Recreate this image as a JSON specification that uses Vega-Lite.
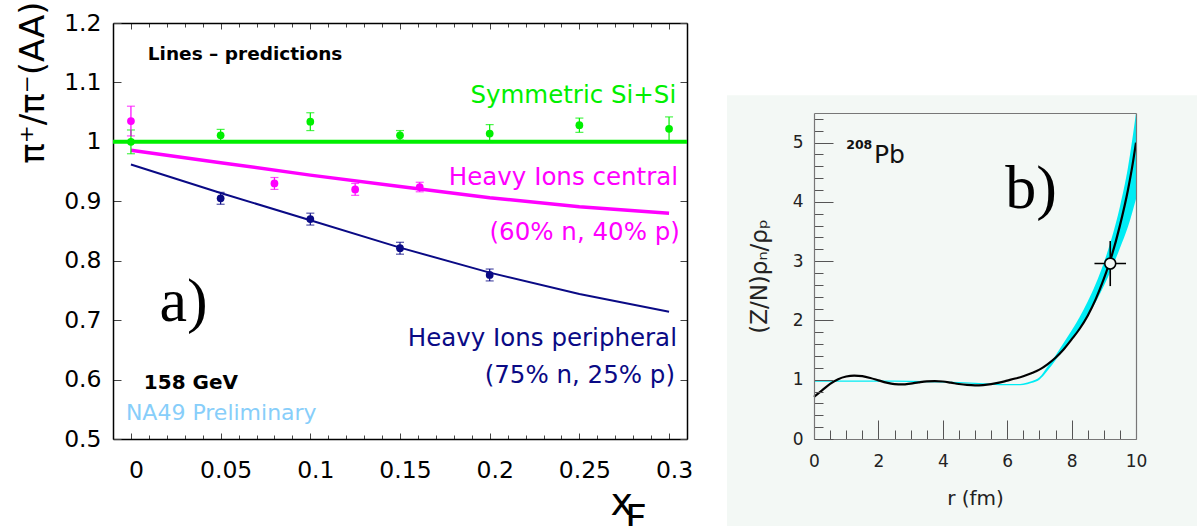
{
  "$schema": "https://vega.github.io/schema/vega-lite/v6.json",
  "background": "white",
  "padding": {"left": 16, "top": 0, "right": 0, "bottom": 0},
  "config": {
    "view": {"stroke": null},
    "axis": {"grid": false, "labelFont": "DejaVu Sans", "titleFont": "DejaVu Sans"},
    "text": {"font": "DejaVu Sans"}
  },
  "bounds": "flush",
  "spacing": 127,
  "hconcat": [
    {
      "width": 574,
      "height": 416,
      "resolve": {"axis": {"x": "independent", "y": "independent"}},
      "layer": [
        {
          "data": {"values": [{"series": "Si+Si", "ratio": 1.0}]},
          "mark": {"type": "rule", "color": "#00ef00", "strokeWidth": 4},
          "encoding": {
            "y": {"field": "ratio", "type": "quantitative", "scale": {"domain": [0.5, 1.2], "nice": false, "zero": false}, "axis": null}
          }
        },
        {
          "data": {"values": [
            {"series": "central", "xF": 0, "ratio": 0.986},
            {"series": "central", "xF": 0.05, "ratio": 0.965},
            {"series": "central", "xF": 0.1, "ratio": 0.944},
            {"series": "central", "xF": 0.15, "ratio": 0.925},
            {"series": "central", "xF": 0.2, "ratio": 0.906},
            {"series": "central", "xF": 0.25, "ratio": 0.891},
            {"series": "central", "xF": 0.3, "ratio": 0.88},
            {"series": "peripheral", "xF": 0, "ratio": 0.962},
            {"series": "peripheral", "xF": 0.05, "ratio": 0.914},
            {"series": "peripheral", "xF": 0.1, "ratio": 0.868},
            {"series": "peripheral", "xF": 0.15, "ratio": 0.822},
            {"series": "peripheral", "xF": 0.2, "ratio": 0.78},
            {"series": "peripheral", "xF": 0.25, "ratio": 0.744},
            {"series": "peripheral", "xF": 0.3, "ratio": 0.714}
          ]},
          "mark": {"type": "line"},
          "encoding": {
            "x": {
              "field": "xF", "type": "quantitative",
              "scale": {"domain": [-0.01, 0.31], "nice": false, "zero": false},
              "axis": {
                "orient": "bottom",
                "values": [0, 0.01, 0.02, 0.03, 0.04, 0.05, 0.06, 0.07, 0.08, 0.09, 0.1, 0.11, 0.12, 0.13, 0.14, 0.15, 0.16, 0.17, 0.18, 0.19, 0.2, 0.21, 0.22, 0.23, 0.24, 0.25, 0.26, 0.27, 0.28, 0.29, 0.3],
                "labelExpr": "round(datum.value*100) % 5 === 0 ? format(datum.value, '~g') : ''",
                "tickSize": {"condition": {"test": "round(datum.value*100) % 5 === 0", "value": -6}, "value": -4},
                "labelPadding": 25,
                "labelOffset": 5,
                "labelFontSize": 23.5,
                "labelColor": "black",
                "labelOverlap": false,
                "labelFlush": false,
                "labelBound": false,
                "domainColor": "black",
                "domainWidth": 1.5,
                "tickColor": "#444",
                "tickWidth": 1,
                "title": "x",
                "titleFontSize": 38,
                "titleFontWeight": "normal",
                "titleColor": "black",
                "titleX": 497,
                "titleY": 75,
                "titleAngle": 0,
                "titleAlign": "left",
                "titleBaseline": "alphabetic"
              }
            },
            "y": {
              "field": "ratio", "type": "quantitative",
              "scale": {"domain": [0.5, 1.2], "nice": false, "zero": false},
              "axis": {
                "orient": "left",
                "values": [0.5, 0.6, 0.7, 0.8, 0.9, 1, 1.1, 1.2],
                "format": "~g",
                "tickSize": -8,
                "labelPadding": 20,
                "labelFontSize": 23.5,
                "labelColor": "black",
                "domainColor": "black",
                "domainWidth": 1.5,
                "tickColor": "#444",
                "tickWidth": 1,
                "title": "π⁺/π⁻(AA)",
                "titleFontSize": 34,
                "titleFontWeight": "normal",
                "titleColor": "black",
                "titleX": -80,
                "titleY": 59,
                "titleAngle": -90,
                "titleAlign": "center",
                "titleBaseline": "middle"
              }
            },
            "color": {"field": "series", "type": "nominal", "scale": {"domain": ["Si+Si", "central", "peripheral"], "range": ["#00ef00", "#ff00ff", "#0a0a85"]}, "legend": null},
            "strokeWidth": {"field": "series", "type": "nominal", "scale": {"domain": ["central", "peripheral"], "range": [3.5, 2]}, "legend": null}
          }
        },
        {
          "data": {"name": "measured", "values": [
            {"series": "Si+Si", "xF": 0, "ratio": 1.0, "lo": 0.98, "hi": 1.02},
            {"series": "Si+Si", "xF": 0.05, "ratio": 1.011, "lo": 1.001, "hi": 1.021},
            {"series": "Si+Si", "xF": 0.1, "ratio": 1.034, "lo": 1.019, "hi": 1.049},
            {"series": "Si+Si", "xF": 0.15, "ratio": 1.011, "lo": 1.003, "hi": 1.019},
            {"series": "Si+Si", "xF": 0.2, "ratio": 1.014, "lo": 0.999, "hi": 1.029},
            {"series": "Si+Si", "xF": 0.25, "ratio": 1.028, "lo": 1.016, "hi": 1.04},
            {"series": "Si+Si", "xF": 0.3, "ratio": 1.022, "lo": 1.002, "hi": 1.042},
            {"series": "central", "xF": 0, "ratio": 1.035, "lo": 1.01, "hi": 1.06},
            {"series": "central", "xF": 0.08, "ratio": 0.93, "lo": 0.92, "hi": 0.94},
            {"series": "central", "xF": 0.125, "ratio": 0.92, "lo": 0.91, "hi": 0.93},
            {"series": "central", "xF": 0.161, "ratio": 0.924, "lo": 0.916, "hi": 0.932},
            {"series": "peripheral", "xF": 0.05, "ratio": 0.905, "lo": 0.895, "hi": 0.915},
            {"series": "peripheral", "xF": 0.1, "ratio": 0.87, "lo": 0.86, "hi": 0.88},
            {"series": "peripheral", "xF": 0.15, "ratio": 0.821, "lo": 0.811, "hi": 0.831},
            {"series": "peripheral", "xF": 0.2, "ratio": 0.776, "lo": 0.766, "hi": 0.786}
          ]},
          "mark": {"type": "errorbar", "ticks": {"size": 8, "thickness": 1.2}, "rule": {"strokeWidth": 1.2}},
          "encoding": {
            "x": {"field": "xF", "type": "quantitative", "scale": {"domain": [-0.01, 0.31], "nice": false, "zero": false}, "axis": null},
            "y": {"field": "lo", "type": "quantitative", "scale": {"domain": [0.5, 1.2], "nice": false, "zero": false}, "axis": null},
            "y2": {"field": "hi"},
            "color": {"field": "series", "type": "nominal", "scale": {"domain": ["Si+Si", "central", "peripheral"], "range": ["#00ef00", "#ff00ff", "#0a0a85"]}, "legend": null}
          }
        },
        {
          "data": {"name": "measured"},
          "mark": {"type": "circle", "size": 60, "opacity": 1},
          "encoding": {
            "x": {
              "field": "xF", "type": "quantitative",
              "scale": {"domain": [-0.01, 0.31], "nice": false, "zero": false},
              "axis": {
                "orient": "top",
                "values": [0, 0.01, 0.02, 0.03, 0.04, 0.05, 0.06, 0.07, 0.08, 0.09, 0.1, 0.11, 0.12, 0.13, 0.14, 0.15, 0.16, 0.17, 0.18, 0.19, 0.2, 0.21, 0.22, 0.23, 0.24, 0.25, 0.26, 0.27, 0.28, 0.29, 0.3],
                "labels": false,
                "tickSize": {"condition": {"test": "round(datum.value*100) % 5 === 0", "value": -6}, "value": -4},
                "domainColor": "black",
                "domainWidth": 1.5,
                "tickColor": "#444",
                "tickWidth": 1,
                "title": null
              }
            },
            "y": {
              "field": "ratio", "type": "quantitative",
              "scale": {"domain": [0.5, 1.2], "nice": false, "zero": false},
              "axis": {
                "orient": "right",
                "values": [0.5, 0.6, 0.7, 0.8, 0.9, 1, 1.1, 1.2],
                "labels": false,
                "tickSize": -7,
                "domainColor": "black",
                "domainWidth": 1.5,
                "tickColor": "#444",
                "tickWidth": 1,
                "title": null
              }
            },
            "color": {"field": "series", "type": "nominal", "scale": {"domain": ["Si+Si", "central", "peripheral"], "range": ["#00ef00", "#ff00ff", "#0a0a85"]}, "legend": null}
          }
        },
        {
          "data": {"values": [{"label": "Lines – predictions"}]},
          "mark": {"type": "text", "align": "left", "baseline": "middle", "fontSize": 18.5, "fontWeight": "bold", "color": "black"},
          "encoding": {
            "text": {"field": "label"},
            "x": {"datum": 0.0094, "type": "quantitative", "scale": {"domain": [-0.01, 0.31], "nice": false, "zero": false}, "axis": null},
            "y": {"datum": 1.148, "type": "quantitative", "scale": {"domain": [0.5, 1.2], "nice": false, "zero": false}, "axis": null}
          }
        },
        {
          "data": {"values": [{"label": "Symmetric Si+Si"}]},
          "mark": {"type": "text", "align": "right", "baseline": "middle", "fontSize": 24.5, "color": "#00ef00"},
          "encoding": {
            "text": {"field": "label"},
            "x": {"datum": 0.304, "type": "quantitative", "scale": {"domain": [-0.01, 0.31], "nice": false, "zero": false}, "axis": null},
            "y": {"datum": 1.077, "type": "quantitative", "scale": {"domain": [0.5, 1.2], "nice": false, "zero": false}, "axis": null}
          }
        },
        {
          "data": {"values": [{"label": "Heavy Ions central"}]},
          "mark": {"type": "text", "align": "right", "baseline": "middle", "fontSize": 24.5, "color": "#ff00ff"},
          "encoding": {
            "text": {"field": "label"},
            "x": {"datum": 0.305, "type": "quantitative", "scale": {"domain": [-0.01, 0.31], "nice": false, "zero": false}, "axis": null},
            "y": {"datum": 0.939, "type": "quantitative", "scale": {"domain": [0.5, 1.2], "nice": false, "zero": false}, "axis": null}
          }
        },
        {
          "data": {"values": [{"label": "(60% n, 40% p)"}]},
          "mark": {"type": "text", "align": "right", "baseline": "middle", "fontSize": 24.5, "color": "#ff00ff"},
          "encoding": {
            "text": {"field": "label"},
            "x": {"datum": 0.306, "type": "quantitative", "scale": {"domain": [-0.01, 0.31], "nice": false, "zero": false}, "axis": null},
            "y": {"datum": 0.847, "type": "quantitative", "scale": {"domain": [0.5, 1.2], "nice": false, "zero": false}, "axis": null}
          }
        },
        {
          "data": {"values": [{"label": "Heavy Ions peripheral"}]},
          "mark": {"type": "text", "align": "right", "baseline": "middle", "fontSize": 24.5, "color": "#0a0a85"},
          "encoding": {
            "text": {"field": "label"},
            "x": {"datum": 0.3044, "type": "quantitative", "scale": {"domain": [-0.01, 0.31], "nice": false, "zero": false}, "axis": null},
            "y": {"datum": 0.668, "type": "quantitative", "scale": {"domain": [0.5, 1.2], "nice": false, "zero": false}, "axis": null}
          }
        },
        {
          "data": {"values": [{"label": "(75% n, 25% p)"}]},
          "mark": {"type": "text", "align": "right", "baseline": "middle", "fontSize": 24.5, "color": "#0a0a85"},
          "encoding": {
            "text": {"field": "label"},
            "x": {"datum": 0.3033, "type": "quantitative", "scale": {"domain": [-0.01, 0.31], "nice": false, "zero": false}, "axis": null},
            "y": {"datum": 0.606, "type": "quantitative", "scale": {"domain": [0.5, 1.2], "nice": false, "zero": false}, "axis": null}
          }
        },
        {
          "data": {"values": [{"label": "a)"}]},
          "mark": {"type": "text", "align": "center", "baseline": "middle", "fontSize": 62, "font": "Liberation Serif", "color": "black"},
          "encoding": {
            "text": {"field": "label"},
            "x": {"datum": 0.0294, "type": "quantitative", "scale": {"domain": [-0.01, 0.31], "nice": false, "zero": false}, "axis": null},
            "y": {"datum": 0.731, "type": "quantitative", "scale": {"domain": [0.5, 1.2], "nice": false, "zero": false}, "axis": null}
          }
        },
        {
          "data": {"values": [{"label": "158 GeV"}]},
          "mark": {"type": "text", "align": "left", "baseline": "middle", "fontSize": 20, "fontWeight": "bold", "color": "black"},
          "encoding": {
            "text": {"field": "label"},
            "x": {"datum": 0.0072, "type": "quantitative", "scale": {"domain": [-0.01, 0.31], "nice": false, "zero": false}, "axis": null},
            "y": {"datum": 0.595, "type": "quantitative", "scale": {"domain": [0.5, 1.2], "nice": false, "zero": false}, "axis": null}
          }
        },
        {
          "data": {"values": [{"label": "NA49 Preliminary"}]},
          "mark": {"type": "text", "align": "left", "baseline": "middle", "fontSize": 22, "color": "#87cefa"},
          "encoding": {
            "text": {"field": "label"},
            "x": {"datum": -0.0028, "type": "quantitative", "scale": {"domain": [-0.01, 0.31], "nice": false, "zero": false}, "axis": null},
            "y": {"datum": 0.543, "type": "quantitative", "scale": {"domain": [0.5, 1.2], "nice": false, "zero": false}, "axis": null}
          }
        },
        {
          "data": {"values": [{"label": "F"}]},
          "mark": {"type": "text", "align": "left", "baseline": "alphabetic", "fontSize": 38, "color": "black"},
          "encoding": {
            "text": {"field": "label"},
            "x": {"datum": 0.2755, "type": "quantitative", "scale": {"domain": [-0.01, 0.31], "nice": false, "zero": false}, "axis": null},
            "y": {"datum": 0.3451, "type": "quantitative", "scale": {"domain": [0.5, 1.2], "nice": false, "zero": false}, "axis": null}
          }
        }
      ]
    },
    {
      "bounds": "flush",
      "spacing": 0,
      "vconcat": [
        {
          "width": 322,
          "height": 90,
          "data": {"values": []},
          "mark": "point",
          "encoding": {}
        },
        {
          "width": 322,
          "height": 326,
          "resolve": {"axis": {"x": "independent", "y": "independent"}},
          "layer": [
            {
              "data": {"values": [{"panel": "b"}]},
              "mark": {"type": "rect", "color": "#f3f8f5", "opacity": 1},
              "encoding": {
                "x": {"datum": -2.7, "type": "quantitative", "scale": {"domain": [0, 10], "nice": false, "zero": false}, "axis": null},
                "x2": {"datum": 11.9},
                "y": {"datum": -1.47, "type": "quantitative", "scale": {"domain": [0, 5.5], "nice": false, "zero": false}, "axis": null},
                "y2": {"datum": 5.8}
              }
            },
            {
              "data": {"values": [
                {"r": 0, "lo": 0.965, "hi": 0.985},
                {"r": 1, "lo": 0.965, "hi": 0.985},
                {"r": 2, "lo": 0.965, "hi": 0.985},
                {"r": 3, "lo": 0.962, "hi": 0.982},
                {"r": 4, "lo": 0.952, "hi": 0.972},
                {"r": 5, "lo": 0.93, "hi": 0.95},
                {"r": 5.5, "lo": 0.915, "hi": 0.937},
                {"r": 6, "lo": 0.905, "hi": 0.927},
                {"r": 6.3, "lo": 0.905, "hi": 0.928},
                {"r": 6.5, "lo": 0.913, "hi": 0.938},
                {"r": 6.75, "lo": 0.945, "hi": 0.975},
                {"r": 7, "lo": 1.0, "hi": 1.04},
                {"r": 7.25, "lo": 1.15, "hi": 1.22},
                {"r": 7.5, "lo": 1.33, "hi": 1.41},
                {"r": 7.75, "lo": 1.51, "hi": 1.62},
                {"r": 8, "lo": 1.69, "hi": 1.83},
                {"r": 8.25, "lo": 1.87, "hi": 2.06},
                {"r": 8.5, "lo": 2.07, "hi": 2.32},
                {"r": 8.75, "lo": 2.31, "hi": 2.62},
                {"r": 9, "lo": 2.58, "hi": 2.97},
                {"r": 9.25, "lo": 2.88, "hi": 3.4},
                {"r": 9.5, "lo": 3.22, "hi": 3.92},
                {"r": 9.75, "lo": 3.58, "hi": 4.58},
                {"r": 10, "lo": 4.05, "hi": 5.5}
              ]},
              "mark": {"type": "area", "color": "#00ecf4", "interpolate": "monotone", "opacity": 1},
              "encoding": {
                "x": {
                  "field": "r", "type": "quantitative",
                  "scale": {"domain": [0, 10], "nice": false, "zero": false},
                  "axis": {
                    "orient": "bottom",
                    "zindex": 1,
                    "values": [0, 0.5, 1, 1.5, 2, 2.5, 3, 3.5, 4, 4.5, 5, 5.5, 6, 6.5, 7, 7.5, 8, 8.5, 9, 9.5, 10],
                    "labelExpr": "datum.value % 2 === 0 ? '' + datum.value : ''",
                    "tickSize": {"condition": {"test": "datum.value % 2 === 0", "value": -19}, "value": -9},
                    "labelPadding": 33,
                    "labelFontSize": 17,
                    "labelColor": "#222",
                    "labelOverlap": false,
                    "labelFlush": false,
                    "labelBound": false,
                    "domainColor": "#777",
                    "domainWidth": 1.2,
                    "tickColor": "#555",
                    "tickWidth": 1,
                    "title": "r (fm)",
                    "titleFontSize": 20,
                    "titleFontWeight": "normal",
                    "titleColor": "#222",
                    "titleX": 161,
                    "titleY": 59,
                    "titleAngle": 0,
                    "titleAlign": "center",
                    "titleBaseline": "middle"
                  }
                },
                "y": {
                  "field": "lo", "type": "quantitative",
                  "scale": {"domain": [0, 5.5], "nice": false, "zero": false},
                  "axis": {
                    "orient": "left",
                    "zindex": 1,
                    "values": [0, 0.2, 0.4, 0.6, 0.8, 1, 1.2, 1.4, 1.6, 1.8, 2, 2.2, 2.4, 2.6, 2.8, 3, 3.2, 3.4, 3.6, 3.8, 4, 4.2, 4.4, 4.6, 4.8, 5, 5.2, 5.4],
                    "labelExpr": "datum.value === round(datum.value) ? '' + datum.value : ''",
                    "tickSize": {"condition": {"test": "datum.value === round(datum.value)", "value": -19}, "value": -9},
                    "labelPadding": 30,
                    "labelFontSize": 17,
                    "labelColor": "#222",
                    "labelOverlap": false,
                    "labelFlush": false,
                    "labelBound": false,
                    "domainColor": "#777",
                    "domainWidth": 1.2,
                    "tickColor": "#555",
                    "tickWidth": 1,
                    "title": "(Z/N)ρₙ/ρₚ",
                    "titleFontSize": 23,
                    "titleFontWeight": "normal",
                    "titleColor": "#222",
                    "titleX": -55,
                    "titleY": 163,
                    "titleAngle": -90,
                    "titleAlign": "center",
                    "titleBaseline": "middle"
                  }
                },
                "y2": {"field": "hi"}
              }
            },
            {
              "data": {"values": [
                {"r": 0, "v": 0.71}, {"r": 0.25, "v": 0.82}, {"r": 0.5, "v": 0.93}, {"r": 0.75, "v": 1.01},
                {"r": 1, "v": 1.055}, {"r": 1.25, "v": 1.07}, {"r": 1.5, "v": 1.06}, {"r": 1.75, "v": 1.03},
                {"r": 2, "v": 0.99}, {"r": 2.25, "v": 0.95}, {"r": 2.5, "v": 0.925}, {"r": 2.75, "v": 0.92},
                {"r": 3, "v": 0.935}, {"r": 3.25, "v": 0.955}, {"r": 3.5, "v": 0.972}, {"r": 3.75, "v": 0.978},
                {"r": 4, "v": 0.97}, {"r": 4.25, "v": 0.95}, {"r": 4.5, "v": 0.928}, {"r": 4.75, "v": 0.912},
                {"r": 5, "v": 0.905}, {"r": 5.25, "v": 0.91}, {"r": 5.5, "v": 0.925}, {"r": 5.75, "v": 0.95},
                {"r": 6, "v": 0.985}, {"r": 6.25, "v": 1.02}, {"r": 6.5, "v": 1.06}, {"r": 6.75, "v": 1.11},
                {"r": 7, "v": 1.17}, {"r": 7.25, "v": 1.26}, {"r": 7.5, "v": 1.37}, {"r": 7.75, "v": 1.51},
                {"r": 8, "v": 1.68}, {"r": 8.25, "v": 1.86}, {"r": 8.5, "v": 2.08}, {"r": 8.75, "v": 2.36},
                {"r": 9, "v": 2.7}, {"r": 9.25, "v": 3.1}, {"r": 9.5, "v": 3.6}, {"r": 9.75, "v": 4.2},
                {"r": 9.875, "v": 4.57}, {"r": 10, "v": 5.0}
              ]},
              "mark": {"type": "line", "color": "black", "strokeWidth": 2.2, "interpolate": "monotone"},
              "encoding": {
                "x": {
                  "field": "r", "type": "quantitative",
                  "scale": {"domain": [0, 10], "nice": false, "zero": false},
                  "axis": {"orient": "top", "zindex": 1, "ticks": false, "labels": false, "domainColor": "#777", "domainWidth": 1.2, "title": null}
                },
                "y": {
                  "field": "v", "type": "quantitative",
                  "scale": {"domain": [0, 5.5], "nice": false, "zero": false},
                  "axis": {"orient": "right", "zindex": 1, "ticks": false, "labels": false, "domainColor": "#777", "domainWidth": 1.2, "title": null}
                }
              }
            },
            {
              "data": {"name": "pbpoint", "values": [{"r": 9.2, "v": 2.96, "rlo": 8.71, "rhi": 9.69, "vlo": 2.58, "vhi": 3.34}]},
              "mark": {"type": "rule", "color": "black", "strokeWidth": 1.6},
              "encoding": {
                "x": {"field": "rlo", "type": "quantitative", "scale": {"domain": [0, 10], "nice": false, "zero": false}, "axis": null},
                "x2": {"field": "rhi"},
                "y": {"field": "v", "type": "quantitative", "scale": {"domain": [0, 5.5], "nice": false, "zero": false}, "axis": null}
              }
            },
            {
              "data": {"name": "pbpoint"},
              "mark": {"type": "rule", "color": "black", "strokeWidth": 1.6},
              "encoding": {
                "x": {"field": "r", "type": "quantitative", "scale": {"domain": [0, 10], "nice": false, "zero": false}, "axis": null},
                "y": {"field": "vlo", "type": "quantitative", "scale": {"domain": [0, 5.5], "nice": false, "zero": false}, "axis": null},
                "y2": {"field": "vhi"}
              }
            },
            {
              "data": {"name": "pbpoint"},
              "mark": {"type": "point", "shape": "circle", "size": 120, "filled": false, "fill": "#f3f8f5", "fillOpacity": 1, "stroke": "black", "strokeWidth": 1.6, "opacity": 1},
              "encoding": {
                "x": {"field": "r", "type": "quantitative", "scale": {"domain": [0, 10], "nice": false, "zero": false}, "axis": null},
                "y": {"field": "v", "type": "quantitative", "scale": {"domain": [0, 5.5], "nice": false, "zero": false}, "axis": null}
              }
            },
            {
              "data": {"values": [{"label": "208"}]},
              "mark": {"type": "text", "align": "left", "baseline": "alphabetic", "fontSize": 12.5, "fontWeight": "bold", "color": "#111"},
              "encoding": {
                "text": {"field": "label"},
                "x": {"datum": 1.0, "type": "quantitative", "scale": {"domain": [0, 10], "nice": false, "zero": false}, "axis": null},
                "y": {"datum": 4.89, "type": "quantitative", "scale": {"domain": [0, 5.5], "nice": false, "zero": false}, "axis": null}
              }
            },
            {
              "data": {"values": [{"label": "Pb"}]},
              "mark": {"type": "text", "align": "left", "baseline": "alphabetic", "fontSize": 25, "color": "#111"},
              "encoding": {
                "text": {"field": "label"},
                "x": {"datum": 1.86, "type": "quantitative", "scale": {"domain": [0, 10], "nice": false, "zero": false}, "axis": null},
                "y": {"datum": 4.66, "type": "quantitative", "scale": {"domain": [0, 5.5], "nice": false, "zero": false}, "axis": null}
              }
            },
            {
              "data": {"values": [{"label": "b)"}]},
              "mark": {"type": "text", "align": "center", "baseline": "middle", "fontSize": 62, "font": "Liberation Serif", "color": "black"},
              "encoding": {
                "text": {"field": "label"},
                "x": {"datum": 6.74, "type": "quantitative", "scale": {"domain": [0, 10], "nice": false, "zero": false}, "axis": null},
                "y": {"datum": 4.22, "type": "quantitative", "scale": {"domain": [0, 5.5], "nice": false, "zero": false}, "axis": null}
              }
            }
          ]
        }
      ]
    }
  ]
}
